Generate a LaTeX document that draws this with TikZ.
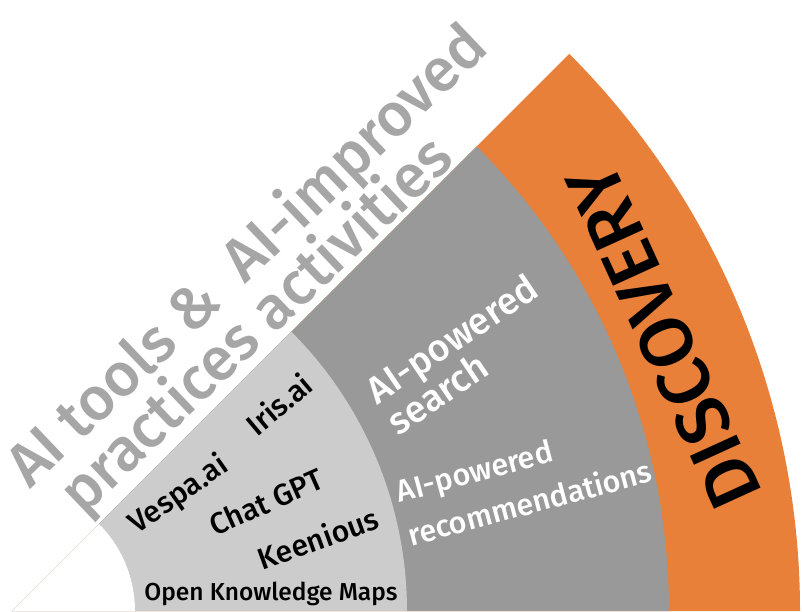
\documentclass[tikz,border=0pt]{standalone}
\usepackage{fontspec}
\setmainfont{Fira Sans}[UprightFont=* Medium]
\usepackage{xcolor}
\definecolor{discorange}{HTML}{E8803A}
\definecolor{searchgray}{HTML}{999999}
\definecolor{toolgray}{HTML}{CCCCCC}
\definecolor{titlegray}{HTML}{A6A6A6}

\begin{document}
\begin{tikzpicture}[x=1pt, y=1pt,
    band/.style={draw=none},
    title/.style={text=titlegray, inner sep=0pt, anchor=base west, rotate=43.6,
                  font=\fontsize{60.5}{62}\selectfont},
    tool/.style={text=black, inner sep=0pt, font=\fontsize{30}{32}\selectfont},
    method/.style={text=white, inner sep=0pt, align=left}]

    \useasboundingbox (0,0) rectangle (802,611);
    \coordinate (o) at (12,0);

    % the bands, outermost first
    \fill[band, discorange] (o) -- ++(0:788) arc[start angle=0, end angle=45, radius=788] -- cycle;
    \fill[band, searchgray] (o) -- ++(0:657) arc[start angle=0, end angle=45, radius=657] -- cycle;
    \fill[band, toolgray]   (o) -- ++(0:395) arc[start angle=0, end angle=45, radius=395] -- cycle;
    \fill[band, white]      (o) -- ++(0:123) arc[start angle=0, end angle=45, radius=123] -- cycle;

    \node[title] (line1) at (30,121) {AI tools \&\hspace{0.25em} AI-improved};
    \node[title] (line2) at (83,94) {practices activities};

    \node[tool, rotate=40] (iris) at (279,207) {Iris.ai};
    \node[tool, rotate=35] (vespa) at (179,116) {Vespa.ai};
    \node[tool, rotate=24] (chat) at (266,109) {Chat GPT};
    \node[tool, rotate=20] (keen) at (318,73) {Keenious};
    \node[tool, font=\fontsize{24.5}{26}\selectfont] (okm) at (271,17) {Open Knowledge Maps};

    \node[method, rotate=34, font=\fontsize{37.5}{35}\selectfont] (search) at (462,257)
        {AI-powered\\search};
    \node[method, rotate=15, font=\fontsize{30.5}{45}\selectfont] (recom) at (524,130)
        {AI-powered\\recommendations};

    \node[text=black, inner sep=0pt, rotate=114.5, font=\fontsize{74}{74}\selectfont]
        (disc) at (664,275) {DISCOVERY};

\end{tikzpicture}
\end{document}
